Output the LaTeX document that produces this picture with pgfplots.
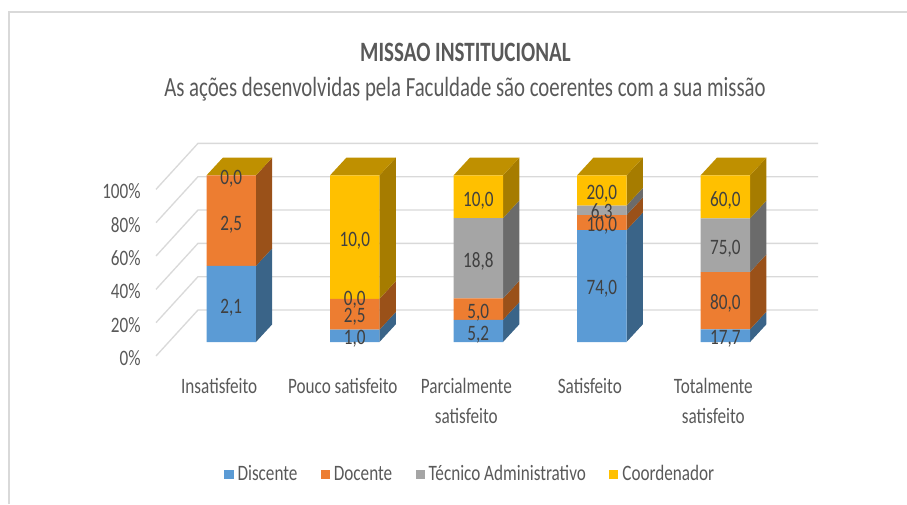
\documentclass[border=0pt]{standalone}
\usepackage{fontspec}
\setmainfont[FakeStretch=0.78]{Carlito}
\newfontfamily\titlefont[FakeStretch=0.75]{Carlito}
\usepackage{pgfplots}
\pgfplotsset{compat=1.18}
\usepackage{xcolor}
\definecolor{cText}{HTML}{595959}
\definecolor{cLabel}{HTML}{404040}
\definecolor{cGrid}{HTML}{D9D9D9}
\definecolor{cFrame}{HTML}{D9D9D9}
\definecolor{cDis}{HTML}{5B9BD5}
\definecolor{cDisS}{HTML}{3A6488}
\definecolor{cDoc}{HTML}{ED7D31}
\definecolor{cDocS}{HTML}{9A5119}
\definecolor{cTec}{HTML}{A5A5A5}
\definecolor{cTecS}{HTML}{6B6B6B}
\definecolor{cCoo}{HTML}{FFC000}
\definecolor{cCooS}{HTML}{A67C00}
\definecolor{cCooT}{HTML}{BF9000}

% 1 px of the reference = 0.75pt
\pgfplotsset{
  chartbase/.style={
    at={(117pt,111pt)}, anchor=south west,
    scale only axis,
    width=496.5pt, height=159.75pt,
    xmin=-0.609, xmax=4.75,
    ymin=-8.4, ymax=119.4,
    clip=false,
  },
  gridline/.style={cGrid, line width=1pt, forget plot},
  side/.style={fill=#1, draw=none, forget plot},
}

\begin{document}
\begin{tikzpicture}[x=0.75pt, y=0.75pt]
\path[use as bounding box] (0,0) rectangle (907,504);

% frame: only left and top edges are visible
\draw[cFrame, line width=1.4pt] (9,0) -- (9,492) -- (907,492);

\node[font=\titlefont\fontsize{21}{24}\selectfont\bfseries, text=cText] at (465.5,452) {MISSAO INSTITUCIONAL};
\node[font=\titlefont\fontsize{20.8}{24}\selectfont, text=cText] at (465,415) {As ações desenvolvidas pela Faculdade são coerentes com a sua missão};

% back wall, depth faces and tick labels
\begin{axis}[
  chartbase,
  axis line style={draw=none},
  major tick length=0pt,
  tick label style={font=\fontsize{16.5}{22.5}\selectfont, text=cText},
  xtick={0,1,2,3,4},
  xticklabels={Insatisfeito, Pouco satisfeito, Parcialmente\\satisfeito, Satisfeito, Totalmente\\satisfeito},
  xticklabel style={align=center, anchor=north, xshift=-9pt, yshift=-13.5pt},
  ytick={0,20,40,60,80,100},
  yticklabels={0\%,20\%,40\%,60\%,80\%,100\%},
  yticklabel style={anchor=east, yshift=-12pt, xshift=-8pt},
]
\addplot[gridline] coordinates {(-0.609,-8.4)(-0.269,19.2)(4.75,19.2)};
\addplot[gridline] coordinates {(-0.609,11.6)(-0.269,39.2)(4.75,39.2)};
\addplot[gridline] coordinates {(-0.609,31.6)(-0.269,59.2)(4.75,59.2)};
\addplot[gridline] coordinates {(-0.609,51.6)(-0.269,79.2)(4.75,79.2)};
\addplot[gridline] coordinates {(-0.609,71.6)(-0.269,99.2)(4.75,99.2)};
\addplot[gridline] coordinates {(-0.609,91.6)(-0.269,119.2)(4.75,119.2)};

% Insatisfeito
\addplot[side=cDisS] coordinates {(0.2,0)(0.332,10.6)(0.332,56.25)(0.2,45.65)} --cycle;
\addplot[side=cDocS] coordinates {(0.2,45.65)(0.332,56.25)(0.332,110.6)(0.2,100)} --cycle;
\addplot[side=cCooT] coordinates {(-0.2,100)(0.2,100)(0.332,110.6)(-0.068,110.6)} --cycle;
% Pouco satisfeito
\addplot[side=cDisS] coordinates {(1.2,0)(1.332,10.6)(1.332,18.01)(1.2,7.41)} --cycle;
\addplot[side=cDocS] coordinates {(1.2,7.41)(1.332,18.01)(1.332,36.53)(1.2,25.93)} --cycle;
\addplot[side=cCooS] coordinates {(1.2,25.93)(1.332,36.53)(1.332,110.6)(1.2,100)} --cycle;
\addplot[side=cCooT] coordinates {(0.8,100)(1.2,100)(1.332,110.6)(0.932,110.6)} --cycle;
% Parcialmente satisfeito
\addplot[side=cDisS] coordinates {(2.2,0)(2.332,10.6)(2.332,23.93)(2.2,13.33)} --cycle;
\addplot[side=cDocS] coordinates {(2.2,13.33)(2.332,23.93)(2.332,36.75)(2.2,26.15)} --cycle;
\addplot[side=cTecS] coordinates {(2.2,26.15)(2.332,36.75)(2.332,84.96)(2.2,74.36)} --cycle;
\addplot[side=cCooS] coordinates {(2.2,74.36)(2.332,84.96)(2.332,110.6)(2.2,100)} --cycle;
\addplot[side=cCooT] coordinates {(1.8,100)(2.2,100)(2.332,110.6)(1.932,110.6)} --cycle;
% Satisfeito
\addplot[side=cDisS] coordinates {(3.2,0)(3.332,10.6)(3.332,77.69)(3.2,67.09)} --cycle;
\addplot[side=cDocS] coordinates {(3.2,67.09)(3.332,77.69)(3.332,86.76)(3.2,76.16)} --cycle;
\addplot[side=cTecS] coordinates {(3.2,76.16)(3.332,86.76)(3.332,92.47)(3.2,81.87)} --cycle;
\addplot[side=cCooS] coordinates {(3.2,81.87)(3.332,92.47)(3.332,110.6)(3.2,100)} --cycle;
\addplot[side=cCooT] coordinates {(2.8,100)(3.2,100)(3.332,110.6)(2.932,110.6)} --cycle;
% Totalmente satisfeito
\addplot[side=cDisS] coordinates {(4.2,0)(4.332,10.6)(4.332,18.21)(4.2,7.61)} --cycle;
\addplot[side=cDocS] coordinates {(4.2,7.61)(4.332,18.21)(4.332,52.59)(4.2,41.99)} --cycle;
\addplot[side=cTecS] coordinates {(4.2,41.99)(4.332,52.59)(4.332,84.82)(4.2,74.22)} --cycle;
\addplot[side=cCooS] coordinates {(4.2,74.22)(4.332,84.82)(4.332,110.6)(4.2,100)} --cycle;
\addplot[side=cCooT] coordinates {(3.8,100)(4.2,100)(4.332,110.6)(3.932,110.6)} --cycle;
\end{axis}

% front faces, each series as a share of its category
\begin{axis}[
  chartbase,
  hide axis,
  ybar stacked,
  bar width=0.4,
  legend columns=4,
  legend cell align=left,
  legend style={
    at={(0.103,-0.555)}, anchor=west,
    draw=none, fill=none, inner sep=0pt,
    font=\fontsize{16.5}{18}\selectfont, text=cText,
    /tikz/every even column/.append style={column sep=15.5pt},
    /tikz/every odd column/.append style={column sep=1pt},
  },
  legend image code/.code={\fill[#1] (0pt,-3.4pt) rectangle (6.8pt,3.4pt);},
]
\addplot[fill=cDis, draw=none] coordinates {(0,45.65)(1,7.41)(2,13.33)(3,67.09)(4,7.61)};
\addlegendentry{Discente}
\addplot[fill=cDoc, draw=none] coordinates {(0,54.35)(1,18.52)(2,12.82)(3,9.07)(4,34.38)};
\addlegendentry{Docente}
\addplot[fill=cTec, draw=none] coordinates {(0,0)(1,0)(2,48.21)(3,5.71)(4,32.23)};
\addlegendentry{Técnico Administrativo}
\addplot[fill=cCoo, draw=none] coordinates {(0,0)(1,74.07)(2,25.64)(3,18.13)(4,25.78)};
\addlegendentry{Coordenador}
\end{axis}

% data labels: the raw values
\begin{axis}[
  chartbase,
  hide axis,
]
\addplot[draw=none, nodes near coords, point meta=explicit symbolic,
  every node near coord/.style={anchor=center, text=cLabel, inner sep=0pt, text depth=0pt,
    font=\fontsize{16.5}{18}\selectfont}]
  table[meta=label] {
x y label
0 21.6 2,1
0 71.4 2,5
0 98.6 0,0
1 3.0 1,0
1 16.0 2,5
1 26.2 0,0
1 61.6 10,0
2 5.4 5,2
2 18.4 5,0
2 49.4 18,8
2 85.6 10,0
3 33.0 74,0
3 70.6 10,0
3 78.6 6,3
3 89.6 20,0
4 3.0 17,7
4 24.0 80,0
4 57.0 75,0
4 85.6 60,0
};
\end{axis}
\end{tikzpicture}
\end{document}
